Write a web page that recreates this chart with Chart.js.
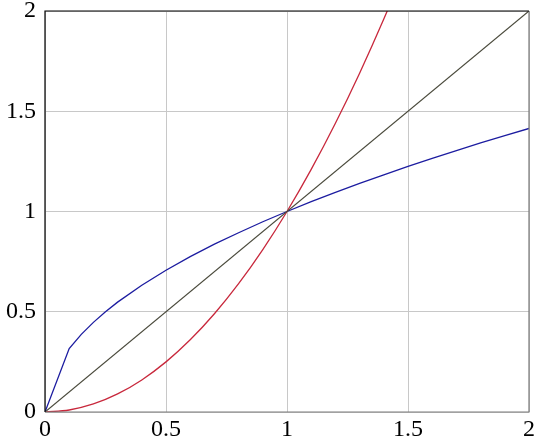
<!DOCTYPE html>
<html>
<head>
<meta charset="utf-8">
<script src="https://cdn.jsdelivr.net/npm/chart.js@4.4.0/dist/chart.umd.min.js"></script>
<style>
  html, body { margin: 0; padding: 0; background: #fff; }
  #wrap { width: 540px; height: 443px; }
</style>
</head>
<body>
<div id="wrap"><canvas id="plot"></canvas></div>
<script>
// values
const sqrtX = [0, 0.1, 0.15, 0.2, 0.25, 0.3, 0.4, 0.5, 0.6, 0.7, 0.8, 0.9, 1.0, 1.1, 1.2, 1.3, 1.4, 1.5, 1.6, 1.7, 1.8, 1.9, 2.0];
const sqrtY = [0, 0.316, 0.387, 0.447, 0.5, 0.548, 0.632, 0.707, 0.775, 0.837, 0.894, 0.949, 1.0, 1.049, 1.095, 1.140, 1.183, 1.225, 1.265, 1.304, 1.342, 1.378, 1.414];

const squareX = [0, 0.1, 0.2, 0.3, 0.4, 0.5, 0.6, 0.7, 0.8, 0.9, 1.0, 1.1, 1.2, 1.3, 1.4, 1.5];
const squareY = [0, 0.01, 0.04, 0.09, 0.16, 0.25, 0.36, 0.49, 0.64, 0.81, 1.0, 1.21, 1.44, 1.69, 1.96, 2.25];

const diagX = [0, 2];
const diagY = [0, 2];

const xTicks = [0, 0.5, 1, 1.5, 2];
const yTicks = [0, 0.5, 1, 1.5, 2];

const pts = (xs, ys) => xs.map((x, i) => ({ x: x, y: ys[i] }));

// frame: top/left black, bottom/right gray
const frame = {
  id: "frame",
  afterDraw(chart) {
    const { ctx, chartArea: a } = chart;
    ctx.save();
    ctx.lineWidth = 1.2;
    ctx.strokeStyle = "#7a7a7a";
    ctx.beginPath();
    ctx.moveTo(a.left, a.bottom); ctx.lineTo(a.right, a.bottom); ctx.lineTo(a.right, a.top);
    ctx.stroke();
    ctx.strokeStyle = "#000";
    ctx.beginPath();
    ctx.moveTo(a.left, a.bottom); ctx.lineTo(a.left, a.top); ctx.lineTo(a.right, a.top);
    ctx.stroke();
    ctx.restore();
  }
};

const tickFont = { family: "'Liberation Serif', 'DejaVu Serif', serif", size: 24 };

new Chart(document.getElementById("plot"), {
  type: "scatter",
  data: {
    datasets: [
      { data: pts(diagX, diagY), showLine: true, borderColor: "#4a4a3c", borderWidth: 1.2, pointRadius: 0, tension: 0 },
      { data: pts(squareX, squareY), showLine: true, borderColor: "#c8283c", borderWidth: 1.3, pointRadius: 0, cubicInterpolationMode: "monotone" },
      { data: pts(sqrtX, sqrtY), showLine: true, borderColor: "#1c1ca0", borderWidth: 1.3, pointRadius: 0, tension: 0 }
    ]
  },
  options: {
    responsive: true,
    maintainAspectRatio: false,
    animation: false,
    layout: { padding: { left: 0, top: 11, right: 11, bottom: 0 } },
    plugins: { legend: { display: false }, tooltip: { enabled: false } },
    scales: {
      x: {
        type: "linear", min: 0, max: 2,
        afterBuildTicks: (s) => { s.ticks = xTicks.map(v => ({ value: v })); },
        afterFit: (s) => { s.height = 31; s.paddingLeft = 0; s.paddingRight = 0; },
        ticks: { color: "#000", font: tickFont, padding: 3, callback: (v) => String(v) },
        grid: { color: "#c8c8c8", lineWidth: 1, drawTicks: false },
        border: { display: false }
      },
      y: {
        type: "linear", min: 0, max: 2,
        afterBuildTicks: (s) => { s.ticks = yTicks.map(v => ({ value: v })); },
        afterFit: (s) => { s.width = 45; s.paddingTop = 0; s.paddingBottom = 0; },
        ticks: { color: "#000", font: tickFont, padding: 9, callback: (v) => String(v) },
        grid: { color: "#c8c8c8", lineWidth: 1, drawTicks: false },
        border: { display: false }
      }
    }
  },
  plugins: [frame]
});
</script>
</body>
</html>
